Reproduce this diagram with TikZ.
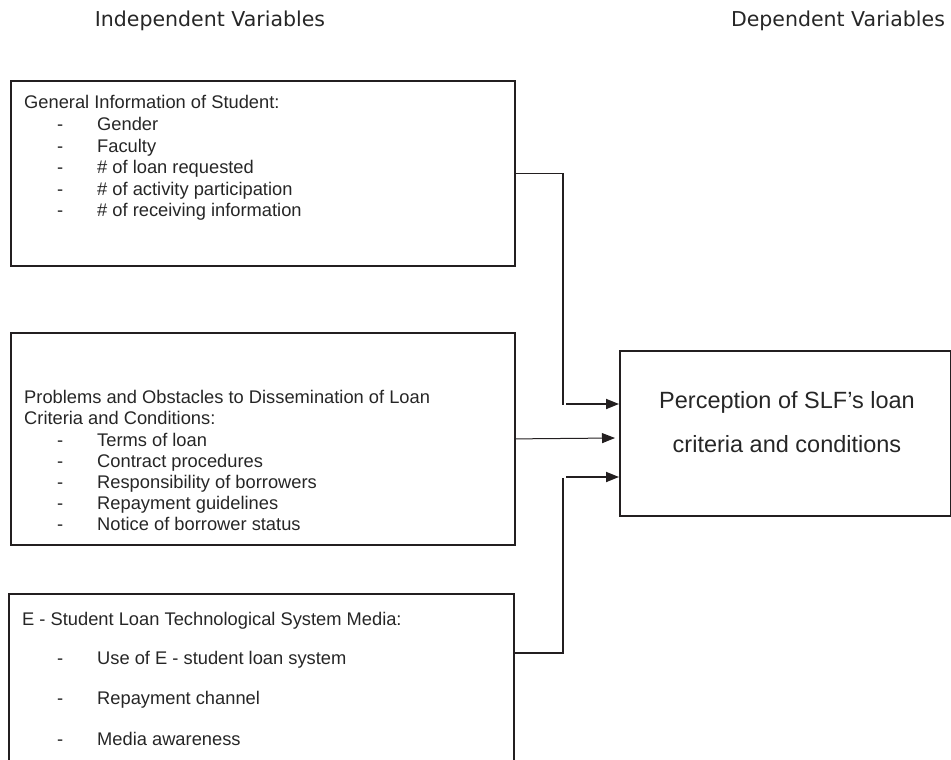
\documentclass[tikz,border=0pt]{standalone}
\usepackage{fontspec}
\setmainfont{Liberation Sans}
\newfontfamily\titlefont{DejaVu Sans}
\usetikzlibrary{arrows.meta}
\definecolor{ink}{HTML}{231F20}
\definecolor{txt}{HTML}{262626}
\tikzset{
  varbox/.style={draw=ink, line width=1.8pt, rectangle, anchor=north west, inner sep=0pt},
  heading/.style={font=\titlefont\fontsize{20.5}{24}\selectfont, text=txt, anchor=base},
  bodytext/.style={font=\fontsize{18.3}{21}\selectfont, text=txt, anchor=base west, inner sep=0pt},
  outtext/.style={font=\fontsize{23.5}{28}\selectfont, text=txt, anchor=base, inner sep=0pt},
  link/.style={draw=ink, line width=1.8pt},
  arrowline/.style={draw=ink, line width=1.8pt, -{Triangle[length=13pt,width=10pt]}},
  thinarrow/.style={draw=ink, line width=1pt, -{Triangle[length=13pt,width=10pt]}}
}
\begin{document}
\begin{tikzpicture}[x=1pt,y=-1pt]
\useasboundingbox (0,0) rectangle (951,760);
\clip (0,0) rectangle (951,760);

% column headings
\node[heading] (hind) at (210,27) {Independent Variables};
\node[heading] (hdep) at (838,27) {Dependent Variables};

% independent variable boxes
\node[varbox, minimum width=504pt, minimum height=185pt] (b1) at (10,80) {};
\node[varbox, minimum width=504pt, minimum height=212pt] (b2) at (10,332) {};
\node[varbox, minimum width=505pt, minimum height=200pt] (b3) at (8,593) {};

% dependent variable box
\node[varbox, minimum width=331pt, minimum height=165pt] (tgt) at (619,350) {};
\node[outtext] (t1) at (787,408) {Perception of SLF’s loan};
\node[outtext] (t2) at (787,452) {criteria and conditions};

% box 1 contents
\node[bodytext] (g0) at (24,108) {General Information of Student:};
\node[bodytext] (g1d) at (57,130) {-};
\node[bodytext] (g1) at (97,130) {Gender};
\node[bodytext] (g2d) at (57,152) {-};
\node[bodytext] (g2) at (97,152) {Faculty};
\node[bodytext] (g3d) at (57,173) {-};
\node[bodytext] (g3) at (97,173) {\# of loan requested};
\node[bodytext] (g4d) at (57,195) {-};
\node[bodytext] (g4) at (97,195) {\# of activity participation};
\node[bodytext] (g5d) at (57,216) {-};
\node[bodytext] (g5) at (97,216) {\# of receiving information};

% box 2 contents
\node[bodytext] (p0) at (24,403) {Problems and Obstacles to Dissemination of Loan};
\node[bodytext] (p0b) at (24,424) {Criteria and Conditions:};
\node[bodytext] (p1d) at (57,446) {-};
\node[bodytext] (p1) at (97,446) {Terms of loan};
\node[bodytext] (p2d) at (57,467) {-};
\node[bodytext] (p2) at (97,467) {Contract procedures};
\node[bodytext] (p3d) at (57,488) {-};
\node[bodytext] (p3) at (97,488) {Responsibility of borrowers};
\node[bodytext] (p4d) at (57,509) {-};
\node[bodytext] (p4) at (97,509) {Repayment guidelines};
\node[bodytext] (p5d) at (57,530) {-};
\node[bodytext] (p5) at (97,530) {Notice of borrower status};

% box 3 contents
\node[bodytext] (e0) at (22,625) {E - Student Loan Technological System Media:};
\node[bodytext] (e1d) at (57,664) {-};
\node[bodytext] (e1) at (97,664) {Use of E - student loan system};
\node[bodytext] (e2d) at (57,704) {-};
\node[bodytext] (e2) at (97,704) {Repayment channel};
\node[bodytext] (e3d) at (57,745) {-};
\node[bodytext] (e3) at (97,745) {Media awareness};

% connectors
\coordinate (j1) at (563,405);
\coordinate (a1) at (566,404);
\coordinate (a2) at (615,438);
\coordinate (j3) at (563,478);
\coordinate (a3) at (566,477);

\draw[link] (b1.east) -| (j1);
\draw[arrowline] (a1) -- (a1 -| tgt.west);
\draw[thinarrow] (b2.east) -- (a2);
\draw[link] (b3.north east) ++(0,60) -| (j3);
\draw[arrowline] (a3) -- (a3 -| tgt.west);
\end{tikzpicture}
\end{document}
